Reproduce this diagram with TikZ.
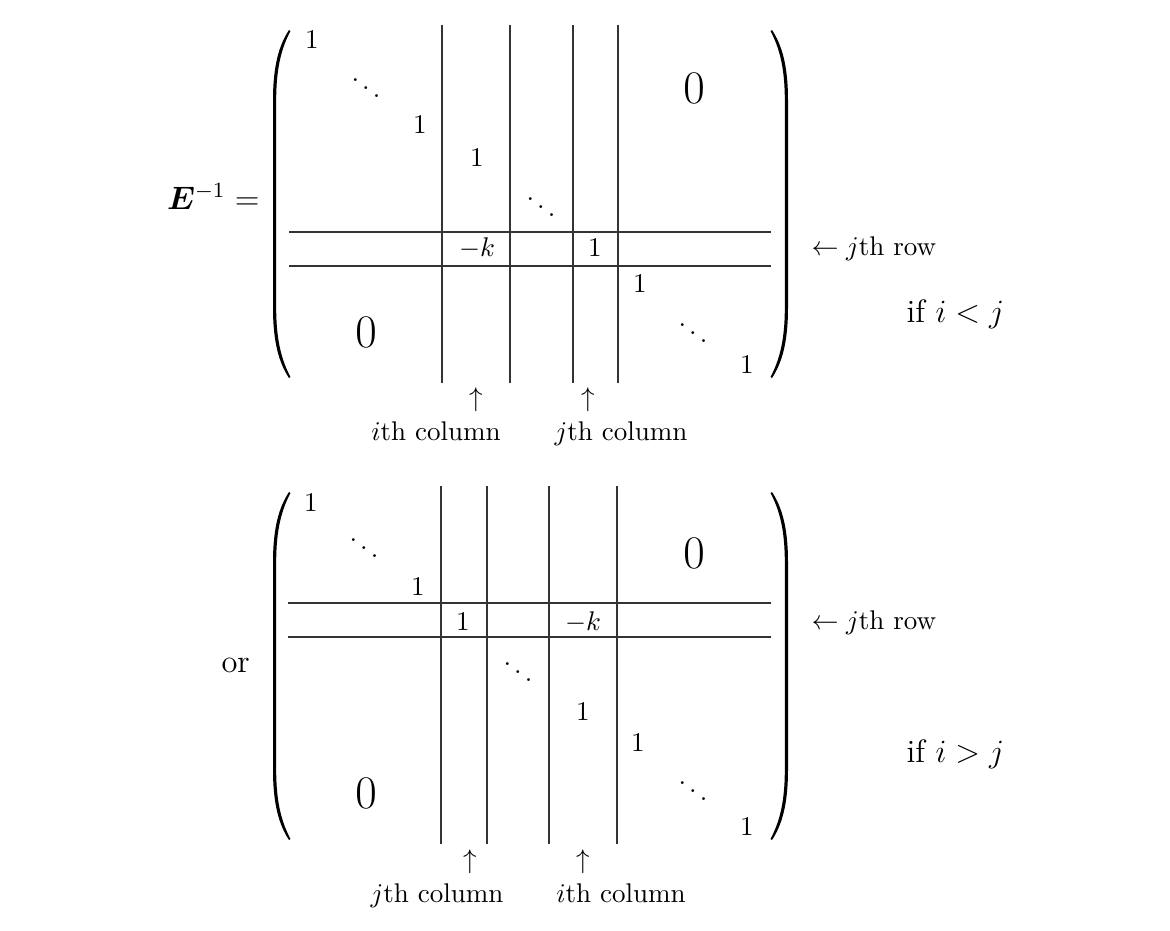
\documentclass[tikz,border=0pt]{standalone}
\usepackage{amsmath,bm}
\begin{document}
\begin{tikzpicture}[x=0.37pt,y=-0.37pt,
  ent/.style={inner sep=0pt, anchor=center},
  dd/.style={inner sep=0pt, anchor=base},
  bigz/.style={inner sep=0pt, anchor=center, font=\LARGE},
  lbl/.style={inner sep=0pt, anchor=base},
  big/.style={inner sep=0pt, font=\large},
  mrule/.style={line width=0.5pt, black!80},
  parfill/.style={fill=black, draw=none}]
\useasboundingbox (0,0) rectangle (1170,931);

\def\parenpath{%
  (289,30) .. controls (279,45) and (273,66) .. (273,100)
  -- (273,308) .. controls (273,342) and (279,363) .. (289,378)
  -- (290.5,377) .. controls (281.5,360) and (276.2,340) .. (276.2,308)
  -- (276.2,100) .. controls (276.2,68) and (281.5,48) .. (290.5,31) -- cycle}

% ---------- top matrix ----------
\node[big, anchor=base east] (Einv) at (260,209) {$\boldsymbol{E}^{-1} =$};
\fill[parfill] \parenpath;
\begin{scope}[shift={(1061,0)}, xscale=-1]
  \fill[parfill] \parenpath;
\end{scope}

\draw[mrule] (442,25) -- (442,383);
\draw[mrule] (510,25) -- (510,383);
\draw[mrule] (573,25) -- (573,383);
\draw[mrule] (618,25) -- (618,383);
\draw[mrule] (289,232) -- (771,232);
\draw[mrule] (289,266) -- (771,266);

\node[ent] (t1) at (312,40) {$1$};
\node[dd] (td1) at (366,100) {$\ddots$};
\node[ent] (t2) at (420,125) {$1$};
\node[ent] (t3) at (477,158) {$1$};
\node[dd] (td2) at (541,219) {$\ddots$};
\node[ent] (tk) at (477,248) {$-k$};
\node[ent] (t4) at (595,248) {$1$};
\node[ent] (t5) at (640,284) {$1$};
\node[dd] (td3) at (693,345) {$\ddots$};
\node[ent] (t6) at (747,365) {$1$};
\node[bigz] (tz1) at (694,88) {$0$};
\node[bigz] (tz2) at (366,332) {$0$};

\node[ent] (up1) at (476,400) {$\uparrow$};
\node[lbl] (ci1) at (436,440) {$i$th column};
\node[ent] (up2) at (588,400) {$\uparrow$};
\node[lbl] (cj1) at (621,440) {$j$th column};
\node[lbl, anchor=base west] (row1) at (811,255) {$\leftarrow j$th row};
\node[big, anchor=base west] (if1) at (906,322) {if $i<j$};

% ---------- bottom matrix ----------
\node[big, anchor=base west] (or) at (221,672) {or};
\begin{scope}[yshift={-462*0.37pt}]
  \fill[parfill] \parenpath;
\end{scope}
\begin{scope}[yshift={-462*0.37pt}, shift={(1061,0)}, xscale=-1]
  \fill[parfill] \parenpath;
\end{scope}

\draw[mrule] (441,486) -- (441,844);
\draw[mrule] (487,486) -- (487,844);
\draw[mrule] (549,486) -- (549,844);
\draw[mrule] (617,486) -- (617,844);
\draw[mrule] (288,603) -- (771,603);
\draw[mrule] (288,637) -- (771,637);

\node[ent] (b1) at (311,503) {$1$};
\node[dd] (bd1) at (364,560) {$\ddots$};
\node[ent] (b2) at (418,587) {$1$};
\node[ent] (b3) at (463,622) {$1$};
\node[ent] (bk) at (583,622) {$-k$};
\node[dd] (bd2) at (518,684) {$\ddots$};
\node[ent] (b4) at (583,712) {$1$};
\node[ent] (b5) at (638,743) {$1$};
\node[dd] (bd3) at (693,803) {$\ddots$};
\node[ent] (b6) at (747,827) {$1$};
\node[bigz] (bz1) at (694,553) {$0$};
\node[bigz] (bz2) at (366,793) {$0$};

\node[ent] (up3) at (470,862) {$\uparrow$};
\node[lbl] (cj2) at (437,902) {$j$th column};
\node[ent] (up4) at (583,862) {$\uparrow$};
\node[lbl] (ci2) at (621,902) {$i$th column};
\node[lbl, anchor=base west] (row2) at (811,629) {$\leftarrow j$th row};
\node[big, anchor=base west] (if2) at (906,762) {if $i>j$};
\end{tikzpicture}
\end{document}
